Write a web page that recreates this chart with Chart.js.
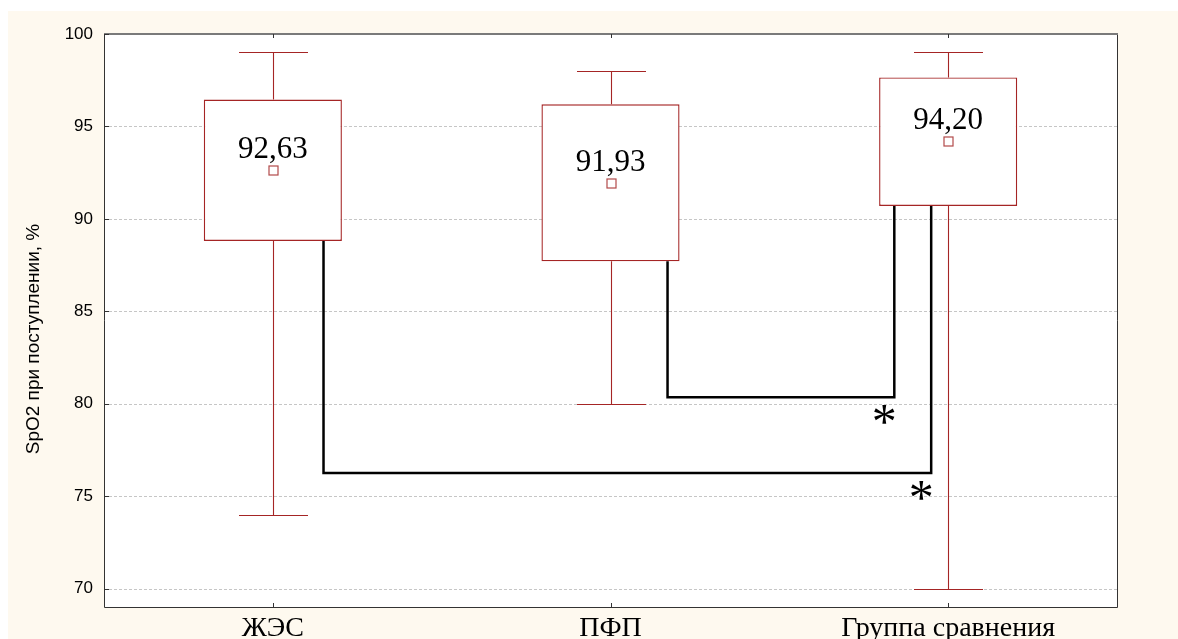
<!DOCTYPE html>
<html>
<head>
<meta charset="utf-8">
<script src="https://cdn.jsdelivr.net/npm/chart.js@4.4.1/dist/chart.umd.min.js"></script>
<style>
    html, body { margin: 0; padding: 0; background: #fff; }
    #wrap { position: absolute; left: 8px; top: 11px; width: 1170px; height: 628px; background: #fef9ef; }
</style>
</head>
<body>
<div id="wrap"><canvas id="chart" width="1170" height="628"></canvas></div>
<script>
const categories = ['ЖЭС', 'ПФП', 'Группа сравнения'];
const whiskerLow = [74, 80, 70];
const boxLow = [88.8, 87.7, 90.7];
const meanValues = [92.63, 91.93, 94.20];
const boxHigh = [96.45, 96.2, 97.65];
const whiskerHigh = [99, 98, 99];
const meanLabels = ['92,63', '91,93', '94,20'];
const yTicks = [70, 75, 80, 85, 90, 95, 100];
const yTitle = 'SpO2 при поступлении, %';
// significance brackets: which boxes are joined and the level of the bottom line
const bracketPairs = [[0, 2], [1, 2]];
const bracketLevels = [76.25, 80.35];

const boxColor = '#a52525';
const serif = '"Liberation Serif", "Times New Roman", serif';
const sans = '"Liberation Sans", Arial, sans-serif';

// where the bracket legs sit, as a share of the box width from the box centre
const bracketLegs = [[0.367, -0.123], [0.413, -0.39]];

const boxExtras = {
    id: 'boxExtras',
    beforeDatasetsDraw(chart) {
        const { ctx, chartArea: a, scales: { y } } = chart;
        ctx.save();
        ctx.fillStyle = '#fff';
        ctx.fillRect(a.left, a.top, a.right - a.left, a.bottom - a.top);
        ctx.strokeStyle = '#c6c6c6';
        ctx.lineWidth = 1;
        ctx.setLineDash([3, 2]);
        yTicks.forEach(v => {
            const py = Math.round(y.getPixelForValue(v)) + 0.5;
            ctx.beginPath();
            ctx.moveTo(a.left, py);
            ctx.lineTo(a.right, py);
            ctx.stroke();
        });
        ctx.restore();
    },
    afterDatasetsDraw(chart) {
        const { ctx, scales: { y } } = chart;
        const bars = chart.getDatasetMeta(0).data;
        ctx.save();

        // whiskers and caps
        ctx.strokeStyle = boxColor;
        ctx.lineWidth = 1.1;
        bars.forEach((bar, i) => {
            const cx = Math.round(bar.x) + 0.5;
            const cap = bar.width / 4;
            const top = Math.round(y.getPixelForValue(whiskerHigh[i])) + 0.5;
            const bot = Math.round(y.getPixelForValue(whiskerLow[i])) + 0.5;
            ctx.beginPath();
            ctx.moveTo(cx, y.getPixelForValue(boxHigh[i]));
            ctx.lineTo(cx, top);
            ctx.moveTo(cx - cap, top);
            ctx.lineTo(cx + cap, top);
            ctx.moveTo(cx, y.getPixelForValue(boxLow[i]));
            ctx.lineTo(cx, bot);
            ctx.moveTo(cx - cap, bot);
            ctx.lineTo(cx + cap, bot);
            ctx.stroke();
        });

        // mean markers and labels
        bars.forEach((bar, i) => {
            const cx = Math.round(bar.x);
            const my = Math.round(y.getPixelForValue(meanValues[i]));
            ctx.fillStyle = '#fff';
            ctx.strokeStyle = '#b24a4a';
            ctx.lineWidth = 1.2;
            ctx.fillRect(cx - 4, my - 4, 9, 9);
            ctx.strokeRect(cx - 4, my - 4, 9, 9);
            ctx.fillStyle = '#000';
            ctx.font = '31px ' + serif;
            ctx.textAlign = 'center';
            ctx.textBaseline = 'alphabetic';
            ctx.fillText(meanLabels[i], bar.x, my - 12);
        });

        // significance brackets
        ctx.strokeStyle = '#000';
        ctx.lineWidth = 2.5;
        ctx.lineJoin = 'miter';
        bracketPairs.forEach(([from, to], k) => {
            const b1 = bars[from], b2 = bars[to];
            const x1 = b1.x + bracketLegs[k][0] * b1.width;
            const x2 = b2.x + bracketLegs[k][1] * b2.width;
            const yl = y.getPixelForValue(bracketLevels[k]);
            ctx.beginPath();
            ctx.moveTo(x1, y.getPixelForValue(boxLow[from]));
            ctx.lineTo(x1, yl);
            ctx.lineTo(x2, yl);
            ctx.lineTo(x2, y.getPixelForValue(boxLow[to]));
            ctx.stroke();
            ctx.fillStyle = '#000';
            ctx.font = '50px ' + serif;
            ctx.textAlign = 'center';
            ctx.textBaseline = 'alphabetic';
            ctx.fillText('*', x2 - 10, yl + 19 + 22);
        });
        ctx.restore();
    },
    afterDraw(chart) {
        const { ctx, chartArea: a, scales: { x, y } } = chart;
        ctx.save();
        // frame
        ctx.strokeStyle = '#333';
        ctx.lineWidth = 1;
        ctx.beginPath();
        ctx.moveTo(a.left + 0.5, a.top);
        ctx.lineTo(a.left + 0.5, a.bottom + 0.5);
        ctx.lineTo(a.right + 0.5, a.bottom + 0.5);
        ctx.lineTo(a.right + 0.5, a.top);
        ctx.stroke();
        ctx.strokeStyle = '#7a7a7a';
        ctx.lineWidth = 2;
        ctx.beginPath();
        ctx.moveTo(a.left, a.top);
        ctx.lineTo(a.right + 1, a.top);
        ctx.stroke();
        // inward tick marks
        ctx.strokeStyle = '#333';
        ctx.lineWidth = 1;
        ctx.beginPath();
        yTicks.forEach(v => {
            const py = Math.round(y.getPixelForValue(v)) + 0.5;
            ctx.moveTo(a.left, py);
            ctx.lineTo(a.left + 5, py);
        });
        categories.forEach((c, i) => {
            const px = Math.round(x.getPixelForValue(i)) + 0.5;
            ctx.moveTo(px, a.top);
            ctx.lineTo(px, a.top + 4);
            ctx.moveTo(px, a.bottom);
            ctx.lineTo(px, a.bottom - 4);
        });
        ctx.stroke();
        // axis title
        ctx.translate(26, 328);
        ctx.rotate(-Math.PI / 2);
        ctx.fillStyle = '#000';
        ctx.font = '19px ' + sans;
        ctx.textAlign = 'center';
        ctx.textBaseline = 'middle';
        ctx.fillText(yTitle, 0, 0);
        ctx.restore();
    }
};

new Chart(document.getElementById('chart'), {
    type: 'bar',
    data: {
        labels: categories,
        datasets: [{
            data: boxLow.map((lo, i) => [lo, boxHigh[i]]),
            backgroundColor: '#fff',
            borderColor: boxColor,
            borderWidth: 1.4,
            borderSkipped: false,
            categoryPercentage: 1,
            barPercentage: 0.409
        }]
    },
    options: {
        responsive: false,
        animation: false,
        layout: { padding: { top: 23, right: 61, left: 0, bottom: 0 } },
        plugins: { legend: { display: false }, tooltip: { enabled: false } },
        scales: {
            x: {
                offset: true,
                grid: { display: false, drawTicks: false },
                border: { display: false },
                ticks: { color: '#000', font: { family: serif, size: 28 }, padding: 5, maxRotation: 0 },
                afterFit(scale) { scale.height = 32; }
            },
            y: {
                min: 69,
                max: 100,
                grid: { display: false, drawTicks: false },
                border: { display: false },
                ticks: { color: '#000', font: { family: sans, size: 17 }, padding: 11 },
                afterBuildTicks(scale) { scale.ticks = yTicks.map(v => ({ value: v })); },
                afterFit(scale) { scale.width = 96; }
            }
        }
    },
    plugins: [boxExtras]
});
</script>
</body>
</html>
